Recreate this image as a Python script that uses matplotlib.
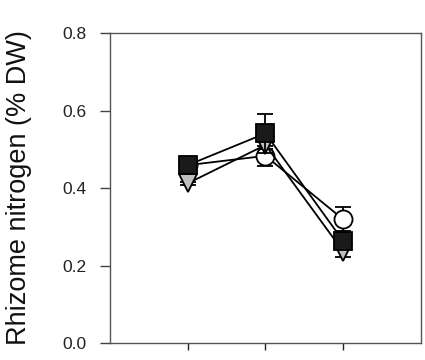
import numpy as np
import matplotlib
matplotlib.use('Agg')
import matplotlib.pyplot as plt

plt.rcParams['font.family'] = ['Liberation Sans', 'DejaVu Sans']

# 采样点
x = [1, 2, 3]

# 三个处理组的根茎含氮量 (% DW) 及误差
square_y = [0.459, 0.541, 0.263]
square_err = [0.01, 0.05, 0.015]
circle_y = [0.459, 0.483, 0.319]
circle_err = [0.01, 0.025, 0.031]
triangle_y = [0.412, 0.511, 0.236]
triangle_err = [0.004, 0.01, 0.014]

yticks = [0.0, 0.2, 0.4, 0.6, 0.8]
ylabel = 'Rhizome nitrogen (% DW)'


def draw():
    fig = plt.figure(figsize=(4.25, 3.6), dpi=100)
    ax = fig.add_axes([0.2588, 0.0472, 0.7318, 0.8611])

    common = dict(color='black', lw=1.3, elinewidth=1.3, capsize=6, capthick=1.3,
                  markeredgecolor='black', markeredgewidth=1.3, markersize=13)
    ax.errorbar(x, circle_y, yerr=circle_err, fmt='-o', markerfacecolor='white',
                zorder=3, **common)
    ax.errorbar(x, triangle_y, yerr=triangle_err, fmt='-v', markerfacecolor='#c0c0c0',
                zorder=4, **common)
    ax.errorbar(x, square_y, yerr=square_err, fmt='-s', markerfacecolor='#1a1a1a',
                zorder=5, **common)

    ax.set_xlim(0, 4)
    ax.set_ylim(0, 0.8)
    ax.set_xticks(x)
    ax.set_xticklabels([])
    ax.set_yticks(yticks)
    ax.set_yticklabels(['%.1f' % v for v in yticks], fontsize=12.5, color='#222222')
    ax.tick_params(axis='y', direction='out', length=7, width=1, color='#444444', pad=10)
    ax.tick_params(axis='x', direction='out', length=5, width=1, color='#222222')
    for s in ax.spines.values():
        s.set_color('#555555')
        s.set_linewidth(1)
    ax.set_ylabel(ylabel, fontsize=19.5, color='#111111', labelpad=22)

    fig.savefig('out.png', dpi=100)


if __name__ == '__main__':
    draw()
